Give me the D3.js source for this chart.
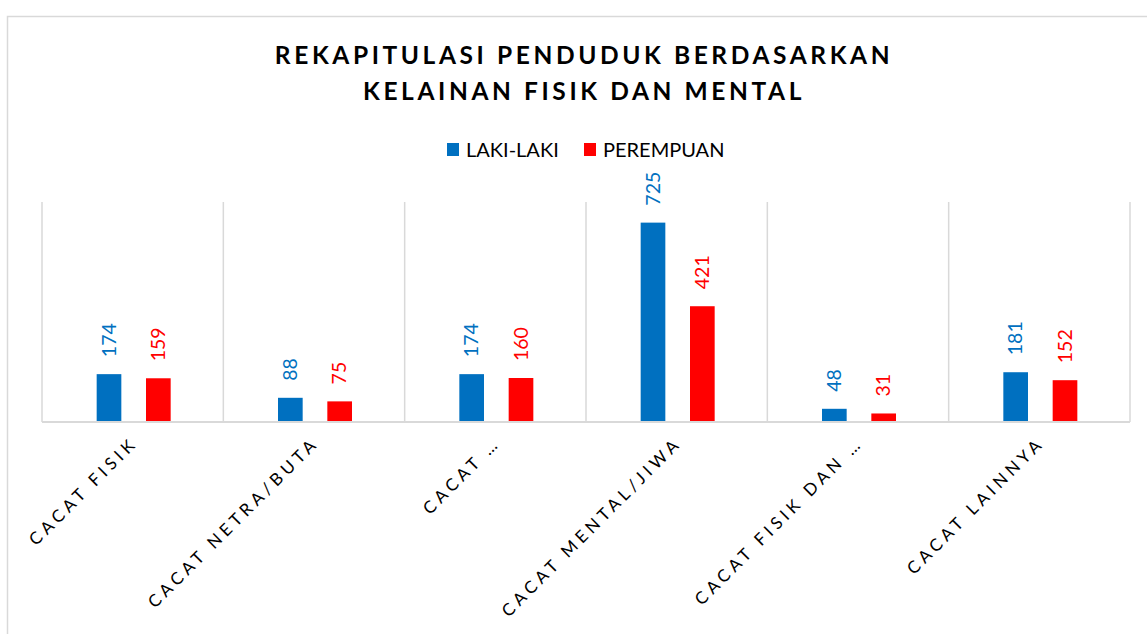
<!DOCTYPE html>
<html>
<head>
<meta charset="utf-8">
<title>Rekapitulasi Penduduk</title>
<script src="https://cdn.jsdelivr.net/npm/d3@7"></script>
<style>
  body { margin: 0; background: #fff; font-family: Lato, "Open Sans", sans-serif; }
</style>
</head>
<body>
<svg id="chart"></svg>
<script>
// data
var categories = ["CACAT FISIK", "CACAT NETRA/BUTA", "CACAT \u2026", "CACAT MENTAL/JIWA", "CACAT FISIK DAN \u2026", "CACAT LAINNYA"];
var seriesNames = ["LAKI-LAKI", "PEREMPUAN"];
var lakiLaki = [174, 88, 174, 725, 48, 181];
var perempuan = [159, 75, 160, 421, 31, 152];
var colors = ["#0070C0", "#FF0000"];

var W = 1147, H = 634;
var plot = {left: 42, right: 1130, top: 202, bottom: 422};

var svg = d3.select("#chart").attr("width", W).attr("height", H);

// chart frame
svg.append("rect")
  .attr("x", 7.5).attr("y", 16.5)
  .attr("width", 1160).attr("height", 640)
  .attr("fill", "#fff")
  .attr("stroke", "#d9d9d9").attr("stroke-width", 1.5);

// title
var title = svg.append("text")
  .attr("text-anchor", "middle")
  .style("font-weight", "bold")
  .style("font-size", "24.5px")
  .style("letter-spacing", "3.6px")
  .attr("fill", "#000");
title.append("tspan").attr("x", 584).attr("y", 64).text("REKAPITULASI PENDUDUK BERDASARKAN");
title.append("tspan").attr("x", 584).attr("y", 100).text("KELAINAN FISIK DAN MENTAL");

// legend
var legendX = [447, 584];
seriesNames.forEach(function(name, i) {
  svg.append("rect")
    .attr("x", legendX[i]).attr("y", 143)
    .attr("width", 12).attr("height", 13)
    .attr("fill", colors[i]);
  svg.append("text")
    .attr("x", legendX[i] + 19).attr("y", 157)
    .style("font-size", "20px")
    .attr("fill", "#000")
    .text(name);
});

// scales
var x0 = d3.scaleBand()
  .domain(categories)
  .range([plot.left, plot.right])
  .padding(0);

var x1 = d3.scaleBand()
  .domain(seriesNames)
  .range([-36, 38])
  .paddingInner(0.5)
  .paddingOuter(0);

var y = d3.scaleLinear()
  .domain([0, 800])
  .range([plot.bottom, plot.top]);

// vertical gridlines at category boundaries
var bounds = categories.map(function(c) { return x0(c); }).concat([plot.right]);
svg.append("g").selectAll("line")
  .data(bounds)
  .enter().append("line")
  .attr("x1", function(d) { return d; })
  .attr("x2", function(d) { return d; })
  .attr("y1", plot.top)
  .attr("y2", plot.bottom)
  .attr("stroke", "#d9d9d9")
  .attr("stroke-width", 1.5);

// bars
var rows = categories.map(function(c, i) {
  return {cat: c, values: [lakiLaki[i], perempuan[i]]};
});

var groups = svg.append("g").selectAll("g")
  .data(rows)
  .enter().append("g")
  .attr("transform", function(d) { return "translate(" + (x0(d.cat) + x0.bandwidth() / 2) + ",0)"; });

groups.selectAll("rect")
  .data(function(d) { return d.values.map(function(v, i) { return {s: seriesNames[i], v: v, i: i}; }); })
  .enter().append("rect")
  .attr("x", function(d) { return x1(d.s); })
  .attr("y", function(d) { return y(d.v); })
  .attr("width", x1.bandwidth())
  .attr("height", function(d) { return plot.bottom - y(d.v); })
  .attr("fill", function(d) { return colors[d.i]; });

// value labels, rotated
groups.selectAll("text")
  .data(function(d) { return d.values.map(function(v, i) { return {s: seriesNames[i], v: v, i: i}; }); })
  .enter().append("text")
  .attr("transform", function(d) {
    return "translate(" + (x1(d.s) + x1.bandwidth() / 2) + "," + (y(d.v) - 17) + ")rotate(-90)";
  })
  .attr("dy", "0.35em")
  .attr("text-anchor", "start")
  .style("font-size", "19.5px")
  .attr("fill", function(d) { return colors[d.i]; })
  .text(function(d) { return d.v; });

// baseline
svg.append("line")
  .attr("x1", plot.left).attr("x2", plot.right)
  .attr("y1", plot.bottom).attr("y2", plot.bottom)
  .attr("stroke", "#d9d9d9")
  .attr("stroke-width", 2);

// category labels at -45 degrees
svg.append("g").selectAll("text")
  .data(categories)
  .enter().append("text")
  .attr("transform", function(d) {
    return "translate(" + (x0(d) + x0.bandwidth() / 2 + 6) + "," + (plot.bottom + 22) + ")rotate(-45)";
  })
  .attr("text-anchor", "end")
  .style("font-size", "17px")
  .style("letter-spacing", "4.3px")
  .attr("fill", "#000")
  .text(function(d) { return d; });
</script>
</body>
</html>
